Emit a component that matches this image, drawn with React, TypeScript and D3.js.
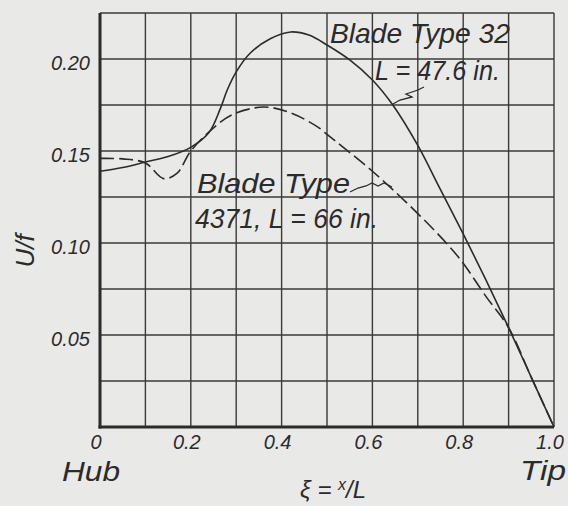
import React, { useRef, useEffect } from 'react';
import * as d3 from 'd3';

// blade type 32, L = 47.6 in (solid)
const xi32 = [0, 0.05, 0.1, 0.15, 0.2, 0.24, 0.265, 0.28, 0.3, 0.33, 0.375, 0.42, 0.46, 0.5, 0.55, 0.6, 0.645, 0.7, 0.75, 0.8, 0.85, 0.9, 0.95, 1.0];
const u32 = [0.139, 0.141, 0.144, 0.147, 0.152, 0.160, 0.173, 0.183, 0.193, 0.203, 0.211, 0.2147, 0.213, 0.2076, 0.1995, 0.1886, 0.175, 0.153, 0.129, 0.105, 0.080, 0.054, 0.027, 0];

// blade type 4371, L = 66 in (dashed)
const xi4371 = [0, 0.05, 0.1, 0.14, 0.17, 0.2, 0.25, 0.29, 0.36, 0.42, 0.48, 0.5, 0.6, 0.7, 0.77, 0.8, 0.85, 0.9, 0.95, 1.0];
const u4371 = [0.146, 0.1457, 0.1435, 0.135, 0.138, 0.150, 0.1625, 0.1696, 0.1739, 0.1707, 0.163, 0.159, 0.139, 0.116, 0.098, 0.089, 0.071, 0.054, 0.027, 0];

const xTicks = [0, 0.2, 0.4, 0.6, 0.8, 1.0];
const xTickLabels = ['0', '0.2', '0.4', '0.6', '0.8', '1.0'];
const yTicks = [0.05, 0.1, 0.15, 0.2];
const yTickLabels = ['0.05', '0.10', '0.15', '0.20'];

export default function App() {
  const svgRef = useRef<SVGSVGElement>(null);

  useEffect(() => {
    const width = 568;
    const height = 506;
    const ink = '#2b2b2b';
    const font = '"Liberation Sans", Arial, sans-serif';

    const svg = d3.select(svgRef.current);
    svg.selectAll('*').remove();

    svg.append('rect').attr('width', width).attr('height', height).attr('fill', '#e9e9e7');

    const x = d3.scaleLinear().domain([0, 1]).range([100, 554]);
    const y = d3.scaleLinear().domain([0, 0.225]).range([427, 13]);

    // grid every 0.1 / 0.025
    const g = svg.append('g');
    g.selectAll('.vgrid')
      .data(d3.range(1, 10).map(i => i / 10))
      .enter().append('line')
      .attr('x1', d => x(d)).attr('x2', d => x(d))
      .attr('y1', y(0.225)).attr('y2', y(0))
      .attr('stroke', '#3a3a3a').attr('stroke-width', 1.4);
    g.selectAll('.hgrid')
      .data(d3.range(1, 9).map(i => i * 0.025))
      .enter().append('line')
      .attr('x1', x(0)).attr('x2', x(1))
      .attr('y1', d => y(d)).attr('y2', d => y(d))
      .attr('stroke', '#3a3a3a').attr('stroke-width', 1.4);

    // frame: heavy left/bottom, light top/right
    g.append('line').attr('x1', x(0)).attr('x2', x(1)).attr('y1', y(0.225)).attr('y2', y(0.225))
      .attr('stroke', '#3a3a3a').attr('stroke-width', 1.4);
    g.append('line').attr('x1', x(1)).attr('x2', x(1)).attr('y1', y(0.225)).attr('y2', y(0))
      .attr('stroke', '#3a3a3a').attr('stroke-width', 1.4);
    g.append('line').attr('x1', x(0)).attr('x2', x(0)).attr('y1', y(0.225)).attr('y2', y(0) + 1.5)
      .attr('stroke', ink).attr('stroke-width', 3);
    g.append('line').attr('x1', x(0) - 1.5).attr('x2', x(1)).attr('y1', y(0)).attr('y2', y(0))
      .attr('stroke', ink).attr('stroke-width', 3);

    const line = d3.line<[number, number]>()
      .x(d => x(d[0]))
      .y(d => y(d[1]))
      .curve(d3.curveCatmullRom.alpha(0.5));

    svg.append('path')
      .attr('d', line(xi32.map((v, i) => [v, u32[i]] as [number, number])))
      .attr('fill', 'none').attr('stroke', ink).attr('stroke-width', 1.6);

    svg.append('path')
      .attr('d', line(xi4371.map((v, i) => [v, u4371[i]] as [number, number])))
      .attr('fill', 'none').attr('stroke', ink).attr('stroke-width', 1.6)
      .attr('stroke-dasharray', '14 5');

    const text = (tx: number, ty: number, s: string, size: number, anchor = 'start', len?: number) => {
      const t = svg.append('text')
        .attr('x', tx).attr('y', ty)
        .attr('text-anchor', anchor)
        .attr('font-family', font)
        .attr('font-style', 'italic')
        .attr('font-size', size)
        .attr('fill', ink)
        .text(s);
      if (len) t.attr('textLength', len).attr('lengthAdjust', 'spacingAndGlyphs');
      return t;
    };

    // tick labels
    yTicks.forEach((v, i) => text(90, y(v) + 11, yTickLabels[i], 20, 'end'));
    xTicks.forEach((v, i) => text(x(v) - 4, 449, xTickLabels[i], 20, 'middle'));

    text(62, 481, 'Hub', 28, 'start', 58);
    text(520, 480, 'Tip', 28, 'start', 46);

    // axis titles
    const xt = svg.append('text')
      .attr('x', 300).attr('y', 498)
      .attr('font-family', font).attr('font-style', 'italic')
      .attr('font-size', 24).attr('fill', ink);
    xt.append('tspan').text('ξ = ');
    xt.append('tspan').attr('font-size', 16).attr('dy', -8).text('x');
    xt.append('tspan').attr('font-size', 24).attr('dy', 8).text('/L');

    svg.append('text')
      .attr('transform', 'translate(34,251) rotate(-90)')
      .attr('text-anchor', 'middle')
      .attr('font-family', font).attr('font-style', 'italic')
      .attr('font-size', 26).attr('fill', ink)
      .text('U/f');

    // annotations
    text(330, 43, 'Blade Type 32', 28, 'start', 180);
    text(375, 80, 'L = 47.6 in.', 28, 'start', 125);
    text(197, 193, 'Blade Type', 28, 'start', 153);
    text(195, 228, '4371, L = 66 in.', 28, 'start', 183);

    // leader squiggles
    svg.append('path')
      .attr('d', 'M393,104 L400,100 L412,97 L406,94 L418,90 L424,87')
      .attr('fill', 'none').attr('stroke', ink).attr('stroke-width', 1.3);
    svg.append('path')
      .attr('d', 'M350,192 L358,188 L366,186 L372,183 L378,186 L384,183 L392,187')
      .attr('fill', 'none').attr('stroke', ink).attr('stroke-width', 1.3);
  }, []);

  return (
    <svg
      ref={svgRef}
      width={568}
      height={506}
      style={{ position: 'absolute', left: 0, top: 0, display: 'block' }}
    ></svg>
  );
}
